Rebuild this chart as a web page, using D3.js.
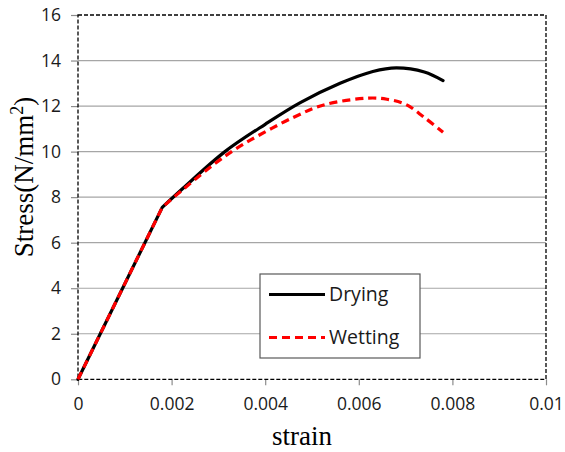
<!DOCTYPE html>
<html>
<head>
<meta charset="utf-8">
<script src="https://cdn.jsdelivr.net/npm/d3@7"></script>
<style>
  html, body { margin: 0; padding: 0; background: #fff; }
  svg { display: block; }
</style>
</head>
<body>
<div id="chart"></div>
<script>
// Stress–strain curves for dried and wetted specimens
const dryingStrain = [0, 0.0018, 0.00225, 0.00314, 0.0040, 0.00475, 0.0056, 0.0063, 0.0068, 0.0074, 0.0078];
const dryingStress = [0, 7.55, 8.4, 10.0, 11.2, 12.15, 13.0, 13.52, 13.68, 13.5, 13.12];
const wettingStrain = [0, 0.0018, 0.00225, 0.00314, 0.00368, 0.0046, 0.00525, 0.0062, 0.0066, 0.0070, 0.0074, 0.0078];
const wettingStress = [0, 7.55, 8.35, 9.8, 10.5, 11.5, 12.05, 12.35, 12.3, 12.08, 11.5, 10.85];
const seriesNames = ["Drying", "Wetting"];
const xTicks = [0, 0.002, 0.004, 0.006, 0.008, 0.01];
const yTicks = [0, 2, 4, 6, 8, 10, 12, 14, 16];

const W = 565, H = 452;
const plotL = 78, plotR = 546, plotT = 15, plotB = 379.3;

const svg = d3.select("#chart").append("svg").attr("width", W).attr("height", H);

const x = d3.scaleLinear().domain([0, 0.01]).range([plotL, plotR]);
const y = d3.scaleLinear().domain([0, 16]).range([plotB, plotT]);

// horizontal gridlines
svg.append("g").selectAll("line")
  .data(yTicks.filter(v => v > 0 && v < 16))
  .join("line")
  .attr("x1", plotL).attr("x2", plotR)
  .attr("y1", d => y(d)).attr("y2", d => y(d))
  .attr("stroke", "#a6a6a6").attr("stroke-width", 1.2);

// axes
const tickFont = "'Open Sans', sans-serif";
const yAxis = svg.append("g").attr("transform", `translate(${plotL},0)`)
  .call(d3.axisLeft(y).tickValues(yTicks).tickSize(7).tickPadding(10).tickFormat(d3.format("d")));
const xAxis = svg.append("g").attr("transform", `translate(0,${plotB})`)
  .call(d3.axisBottom(x).tickValues(xTicks).tickSize(6).tickPadding(12).tickFormat(d => d === 0 ? "0" : String(+d.toFixed(3))));
[yAxis, xAxis].forEach(g => {
  g.select(".domain").remove();
  g.selectAll(".tick line").attr("stroke", "#8c8c8c").attr("stroke-width", 1.2);
  g.selectAll("text").attr("font-family", tickFont).attr("font-size", 17.5).attr("fill", "#1a1a1a");
});

// dashed plot frame
svg.append("rect")
  .attr("x", plotL).attr("y", plotT)
  .attr("width", plotR - plotL).attr("height", plotB - plotT)
  .attr("fill", "none").attr("stroke", "#000").attr("stroke-width", 1.3)
  .attr("stroke-dasharray", "4,2");

// curves: straight elastic segment up to the yield point, smooth curve afterwards
const straight = d3.line().x(d => x(d[0])).y(d => y(d[1]));
const smooth = d3.line().x(d => x(d[0])).y(d => y(d[1])).curve(d3.curveCatmullRom.alpha(0.5));
function curvePath(pts) {
  const elastic = straight(pts.slice(0, 2));
  const plastic = smooth(pts.slice(1));
  return elastic + "L" + plastic.slice(1);
}
const dryingPts = dryingStrain.map((s, i) => [s, dryingStress[i]]);
const wettingPts = wettingStrain.map((s, i) => [s, wettingStress[i]]);

svg.append("path").attr("d", curvePath(dryingPts))
  .attr("fill", "none").attr("stroke", "#000").attr("stroke-width", 3.2)
  .attr("stroke-linejoin", "round").attr("stroke-linecap", "round");
svg.append("path").attr("d", curvePath(wettingPts))
  .attr("fill", "none").attr("stroke", "#ff0000").attr("stroke-width", 3.2)
  .attr("stroke-linejoin", "round")
  .attr("stroke-dasharray", "8,5");

// legend
const lg = svg.append("g");
lg.append("rect").attr("x", 260).attr("y", 274).attr("width", 160).attr("height", 84)
  .attr("fill", "#fff").attr("stroke", "#595959").attr("stroke-width", 1.2);
const legendStyles = [
  { color: "#000", dash: null, y: 294.5 },
  { color: "#ff0000", dash: "8,5", y: 337.5 }
];
seriesNames.forEach((name, i) => {
  const st = legendStyles[i];
  lg.append("line").attr("x1", 269).attr("x2", 325).attr("y1", st.y).attr("y2", st.y)
    .attr("stroke", st.color).attr("stroke-width", 3.2)
    .attr("stroke-dasharray", st.dash);
  lg.append("text").attr("x", 329).attr("y", st.y).attr("dy", "0.35em")
    .attr("font-family", tickFont).attr("font-size", 19.5).attr("fill", "#1a1a1a")
    .text(name);
});

// axis titles
svg.append("text").attr("x", 302).attr("y", 445).attr("text-anchor", "middle")
  .attr("font-family", "'Liberation Serif', 'Times New Roman', serif").attr("font-size", 27)
  .text("strain");
const yt = svg.append("text").attr("transform", "translate(33,177) rotate(-90)")
  .attr("text-anchor", "middle")
  .attr("font-family", "'Liberation Serif', 'Times New Roman', serif").attr("font-size", 27);
yt.append("tspan").text("Stress(N/mm");
yt.append("tspan").attr("baseline-shift", "super").attr("font-size", 18).text("2");
yt.append("tspan").text(")");
</script>
</body>
</html>
